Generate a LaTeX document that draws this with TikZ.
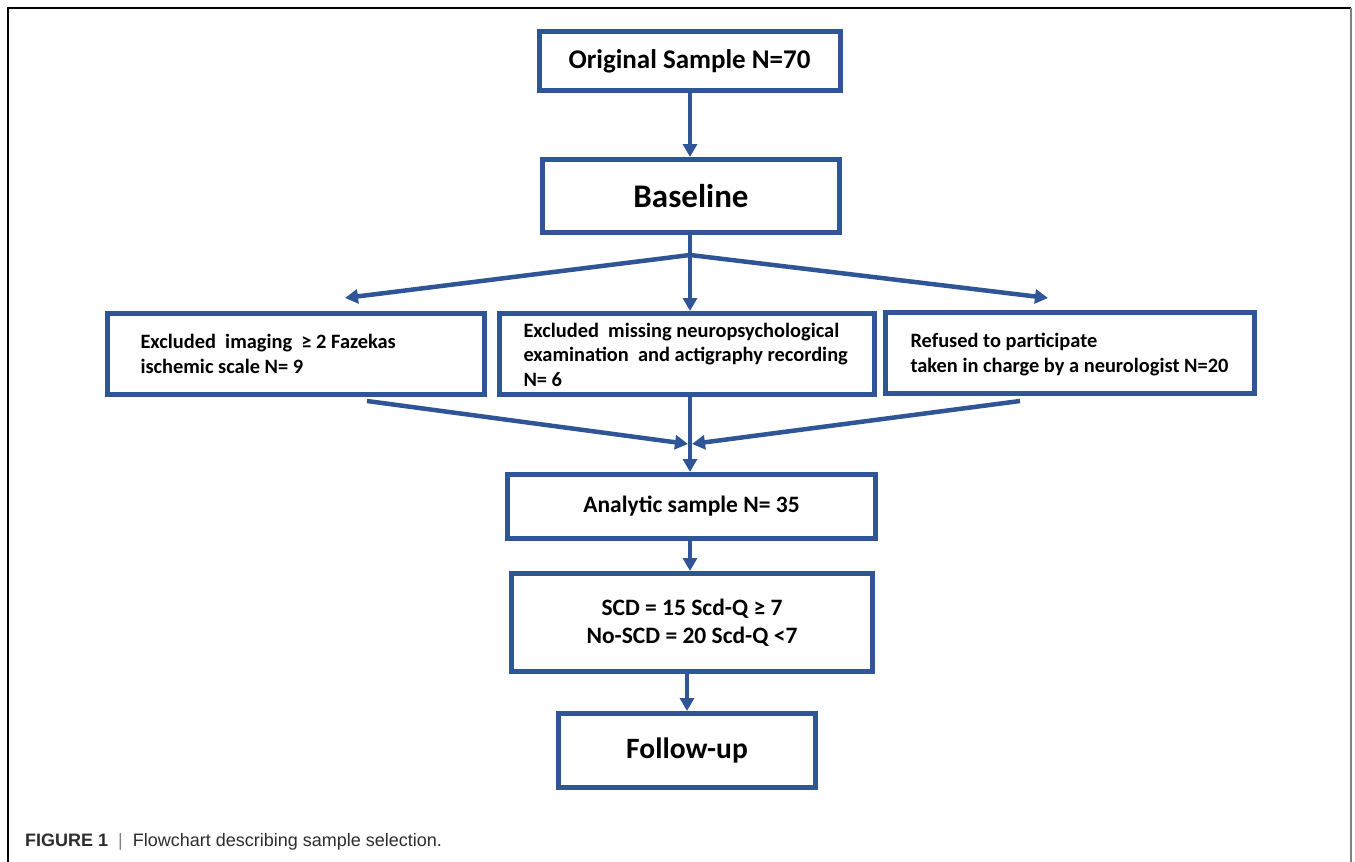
\documentclass[tikz,border=0pt]{standalone}
\usepackage{fontspec}
\setmainfont{Carlito}
\newfontfamily\capfont{Liberation Sans}
\usetikzlibrary{arrows.meta}
\definecolor{boxblue}{RGB}{47,85,151}
\definecolor{capgray}{RGB}{45,45,45}
\tikzset{
  flowbox/.style={draw=boxblue, line width=5pt, rectangle, inner sep=0pt, align=center, font=\bfseries},
  sidebox/.style={flowbox, minimum height=81pt, font=\bfseries\fontsize{20.4}{24.5}\selectfont},
  flowarrow/.style={draw=boxblue, line width=4.5pt, -{Triangle[length=13pt,width=14pt]}},
  flowline/.style={draw=boxblue, line width=4.5pt},
}
\newcommand{\sidetext}[4]{\makebox[#1][l]{\hspace*{#2}\raisebox{#3}[\height][\depth]{\begin{tabular}{@{}l@{}}#4\end{tabular}}}}
\begin{document}
\begin{tikzpicture}[x=1pt,y=-1pt]
\useasboundingbox (0,0) rectangle (1355,862);
% frame
\draw[black, line width=1.5pt] (8,862) -- (8,8) -- (1351,8);
\draw[gray, line width=1.5pt] (1351,8) -- (1351,862);

\node[flowbox, minimum width=301pt, minimum height=59pt, font=\bfseries\fontsize{27}{32}\selectfont] (orig) at (689.5,61) {Original Sample N=70};
\node[flowbox, minimum width=297pt, minimum height=73pt, font=\bfseries\fontsize{33}{38}\selectfont] (base) at (691,196) {Baseline};

\node[sidebox, minimum width=377pt] (left) at (296,354)
  {\sidetext{377pt}{33pt}{-2pt}{Excluded\ \ imaging\ \ ≥ 2 Fazekas\\ischemic scale N= 9}};
\node[sidebox, minimum width=375pt] (mid) at (687,354)
  {\sidetext{375pt}{24pt}{-3pt}{Excluded\ \ missing neuropsychological\\examination\ \ and actigraphy recording\\N= 6}};
\node[sidebox, minimum width=369pt] (right) at (1070,353)
  {\sidetext{369pt}{25pt}{-2pt}{Refused to participate\\taken in charge by a neurologist N=20}};

\node[flowbox, minimum width=368pt, minimum height=64pt, font=\bfseries\fontsize{23.5}{28}\selectfont] (anal) at (691.5,506.5) {Analytic sample N= 35};
\node[flowbox, minimum width=361pt, minimum height=98pt, font=\bfseries\fontsize{23.5}{28}\selectfont] (scd) at (692,622.5) {SCD = 15 Scd-Q ≥ 7\\No-SCD = 20 Scd-Q <7};
\node[flowbox, minimum width=257pt, minimum height=74pt, font=\bfseries\fontsize{29.5}{34}\selectfont] (fu) at (687,750.5) {Follow-up};

% connectors
\coordinate (split) at (690,255);
\coordinate (lefttip) at (345,298);
\coordinate (righttip) at (1048,298);
\coordinate (lstart) at (367,401);
\coordinate (rstart) at (1020,401);
\coordinate (lend) at (688,444);
\coordinate (rend) at (692,444);

\draw[flowarrow] (orig.south -| split) -- (base.north -| split);
\draw[flowline] (base.south -| split) -- (split);
\draw[flowarrow] (split) -- (lefttip);
\draw[flowarrow] (split) -- (mid.north -| split);
\draw[flowarrow] (split) -- (righttip);
\draw[flowarrow] (lstart) -- (lend);
\draw[flowarrow] (rstart) -- (rend);
\draw[flowarrow] (mid.south -| split) -- (anal.north -| split);
\draw[flowarrow] (anal.south -| split) -- (scd.north -| split);
\draw[flowarrow] (scd.south -| fu.north) -- (fu.north);

% caption
\node[anchor=west, inner sep=0pt, font=\capfont\fontsize{18}{22}\selectfont, text=capgray] (cap) at (25,842)
  {\textbf{FIGURE 1}\ \ {\color{gray}|}\ \ Flowchart describing sample selection.};
\end{tikzpicture}
\end{document}
